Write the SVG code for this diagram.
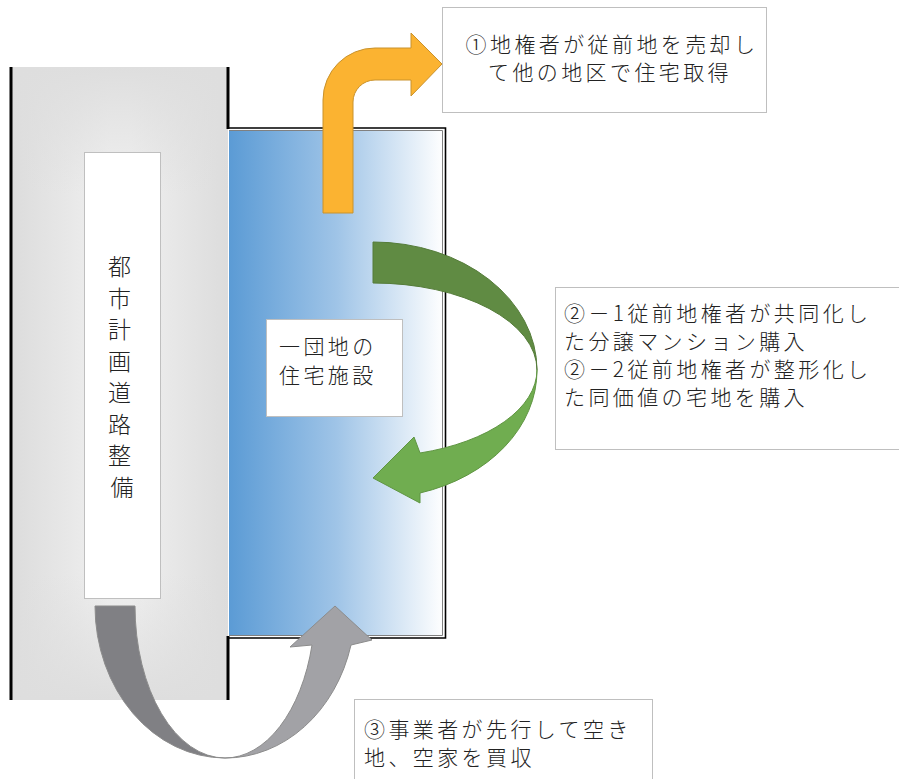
<svg xmlns="http://www.w3.org/2000/svg" width="899" height="779" viewBox="0 0 899 779">
  <defs>
    <linearGradient id="roadH" x1="0" y1="0" x2="1" y2="0">
      <stop offset="0" stop-color="#dcdcdc"/>
      <stop offset="0.45" stop-color="#f0f0f0"/>
      <stop offset="0.55" stop-color="#f0f0f0"/>
      <stop offset="1" stop-color="#dcdcdc"/>
    </linearGradient>
    <linearGradient id="roadV" x1="0" y1="0" x2="0" y2="1">
      <stop offset="0" stop-color="#dedede" stop-opacity="1"/>
      <stop offset="0.2" stop-color="#dedede" stop-opacity="0"/>
      <stop offset="0.8" stop-color="#dedede" stop-opacity="0"/>
      <stop offset="1" stop-color="#dedede" stop-opacity="1"/>
    </linearGradient>
    <linearGradient id="blueG" x1="0" y1="0" x2="1" y2="0">
      <stop offset="0" stop-color="#5b9bd5"/>
      <stop offset="0.5" stop-color="#9fc4e7"/>
      <stop offset="1" stop-color="#ffffff"/>
    </linearGradient>
    <style>
      .box { fill: #ffffff; stroke: #bfbfbf; stroke-width: 1; }
      .t { font-family: "Noto Sans CJK JP", "Noto Sans CJK SC", sans-serif; font-size: 21px; font-weight: 300; letter-spacing: 3.4px; fill: #222222; }
      .v { font-family: "Noto Sans CJK JP", "Noto Sans CJK SC", sans-serif; font-size: 23px; font-weight: 300; fill: #222222; }
      .blk { fill: none; stroke: #000000; stroke-width: 3; }
    </style>
  </defs>

  <g id="road">
    <rect x="11" y="67" width="217" height="633" fill="url(#roadH)"/>
    <rect x="11" y="67" width="217" height="633" fill="url(#roadV)"/>
    <line x1="11" y1="67" x2="11" y2="700" class="blk"/>
    <line x1="228" y1="67" x2="228" y2="129" class="blk"/>
    <line x1="228" y1="636" x2="228" y2="700" class="blk"/>
    <rect x="84.5" y="152.5" width="76" height="446" class="box"/>
    <text class="v" text-anchor="middle">
      <tspan x="122" y="275">都</tspan>
      <tspan x="122" y="306.5">市</tspan>
      <tspan x="122" y="338">計</tspan>
      <tspan x="122" y="369.5">画</tspan>
      <tspan x="122" y="401">道</tspan>
      <tspan x="122" y="432.5">路</tspan>
      <tspan x="122" y="464">整</tspan>
      <tspan x="122" y="495.5">備</tspan>
    </text>
  </g>

  <g id="housing">
    <rect x="229" y="130" width="215" height="506" fill="url(#blueG)"/>
    <path d="M229,130.5 H442.5 V635.5 H229" fill="none" stroke="#808080" stroke-width="1"/>
    <path d="M227,128 H445.5 V638 H227" fill="none" stroke="#000000" stroke-width="1.6"/>
    <rect x="266.5" y="319.5" width="136" height="97" class="box"/>
    <text class="t" x="279" y="354">一団地の</text>
    <text class="t" x="279" y="383">住宅施設</text>
  </g>

  <g id="box1">
    <rect x="442.5" y="7.5" width="324" height="105" class="box"/>
    <text class="t" text-anchor="middle" x="612" y="52">①地権者が従前地を売却し</text>
    <text class="t" text-anchor="middle" x="610" y="80">て他の地区で住宅取得</text>
  </g>

  <g id="box2">
    <rect x="555.5" y="287.5" width="350" height="162" class="box"/>
    <text class="t" x="564" y="321">②－1従前地権者が共同化し</text>
    <text class="t" x="564" y="349">た分譲マンション購入</text>
    <text class="t" x="564" y="377">②－2従前地権者が整形化し</text>
    <text class="t" x="564" y="405">た同価値の宅地を購入</text>
  </g>

  <g id="box3">
    <rect x="354.5" y="699.5" width="298" height="90" class="box"/>
    <text class="t" x="364" y="737">③事業者が先行して空き</text>
    <text class="t" x="364" y="765">地、空家を買収</text>
  </g>

  <g id="connectors">
    <path id="arrow1" d="M323,213 L323,100 A52,52 0 0 1 375,48 L411,48 L411,33 L442,64 L411,96 L411,80 L375,80 A22,22 0 0 0 353,102 L353,213 Z" fill="#fbb331" stroke="#c9922c" stroke-width="1"/>
    <g id="arrow2">
      <path d="M373,242 A164,128 0 0 1 537,370 A164,87 0 0 0 373,283 Z" fill="#608b43" stroke="#557c3a" stroke-width="1"/>
      <path d="M537,370 A164,87 0 0 1 420,453 L414,437 L373,478 L420,503 L420,493 A164,128 0 0 0 537,370 Z" fill="#70ad50" stroke="#5f9542" stroke-width="1"/>
    </g>
    <g id="arrow3">
      <path d="M95,606 L135,606 A90,152 0 0 0 225,758 A130,152 0 0 1 95,606 Z" fill="#808084" stroke="#8c8c8c" stroke-width="1"/>
      <path d="M225,758 A90,152 0 0 0 312,645 L290,647 L335,606 L372,640 L351,645 A130,152 0 0 1 225,758 Z" fill="#a2a2a6" stroke="#8c8c8c" stroke-width="1"/>
    </g>
  </g>
</svg>
